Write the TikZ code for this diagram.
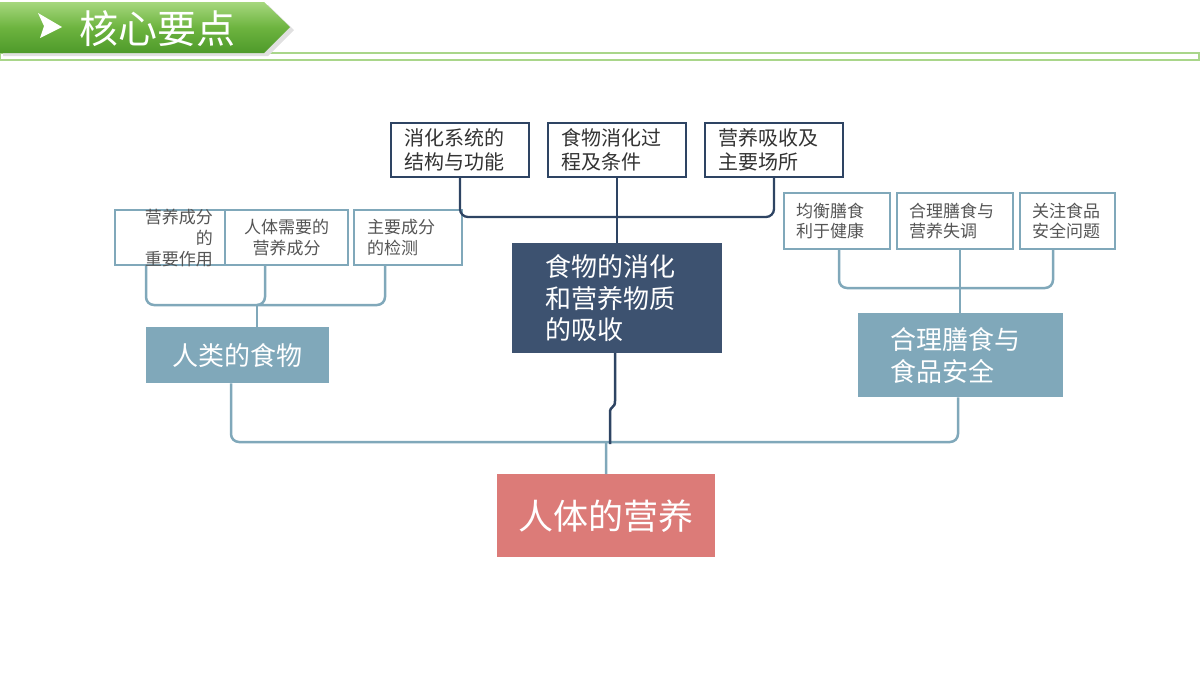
\documentclass[tikz,border=0pt]{standalone}
\usepackage{fontspec}
\setmainfont{Noto Sans CJK SC}
\usetikzlibrary{calc}
\definecolor{navy}{HTML}{2E4463}
\definecolor{midnavy}{HTML}{3D5270}
\definecolor{steel}{HTML}{80A8BA}
\definecolor{rosy}{HTML}{DC7B78}
\definecolor{greyt}{HTML}{555555}
\definecolor{darkt}{HTML}{333333}
\definecolor{gtop}{HTML}{A6D77E}
\definecolor{gmid}{HTML}{6DB43F}
\definecolor{gbot}{HTML}{4E9A2A}
\definecolor{gline}{HTML}{A9D68A}
\tikzset{
  topbox/.style={draw=navy, line width=2pt, fill=white, anchor=north west,
    inner xsep=13pt, inner ysep=0pt, text width=112pt, align=left,
    minimum height=54pt, text=darkt, font=\fontsize{20}{24}\selectfont},
  smallbox/.style={draw=steel, line width=2pt, fill=white, anchor=north west,
    inner sep=0pt, minimum height=55pt},
  rbox/.style={draw=steel, line width=2pt, fill=white, anchor=north west,
    inner ysep=0pt, inner xsep=12pt, align=left, minimum height=56pt,
    text=greyt, font=\fontsize{17}{20}\selectfont},
  stext/.style={text=greyt, font=\fontsize{17}{21}\selectfont, inner sep=0pt},
  mainbox/.style={anchor=north west, inner ysep=0pt, text=white},
  conn/.style={draw=steel, line width=2.5pt, rounded corners=8pt},
  dconn/.style={draw=navy, line width=2.3pt, rounded corners=8pt},
}
\begin{document}
\begin{tikzpicture}[x=1pt, y=-1pt]
\useasboundingbox (0,0) rectangle (1200,675);
% header
\draw[gline, line width=2pt] (0,52.5) rectangle (1198.5,59.5);
\fill[black!12] (3,5) -- (268,5) -- (294,30) -- (268,56) -- (3,56) -- cycle;
\shade[top color=gtop, bottom color=gbot, middle color=gmid]
  (0,2) -- (264,2) -- (290,27) -- (264,53) -- (0,53) -- cycle;
\fill[white] (38,13) -- (62,27) -- (40,38) -- (44,26) -- cycle;
\node[text=white, font=\fontsize{39}{40}\selectfont, anchor=west, inner sep=0pt] (title) at (79,29) {核心要点};

% top boxes
\node[topbox] (t1) at (390,122) {消化系统的\\结构与功能};
\node[topbox] (t2) at (547,122) {食物消化过\\程及条件};
\node[topbox] (t3) at (704,122) {营养吸收及\\主要场所};

% center box
\node[mainbox, fill=midnavy, minimum width=210pt, minimum height=110pt,
  inner xsep=33pt, text width=144pt, align=left, font=\fontsize{26}{31.5}\selectfont]
  (c) at (512,243) {食物的消化\\和营养物质\\的吸收};

% left small boxes
\node[smallbox, minimum width=110pt] (l1) at (114,209) {};
\node[stext, align=right, anchor=north east] (l1t) at (213,209) {营养成分\\的\\重要作用};
\node[smallbox, minimum width=123pt, text=greyt, font=\fontsize{17}{21}\selectfont, align=center] (l2) at (224,209) {人体需要的\\营养成分};
\node[smallbox, minimum width=108pt, inner xsep=13pt, text width=82pt, align=left, text=greyt, font=\fontsize{17}{21}\selectfont] (l3) at (353,209) {主要成分\\的检测};

% left main box
\node[mainbox, fill=steel, minimum width=183pt, minimum height=56pt, font=\fontsize{26}{30}\selectfont] (lf) at (146,327) {人类的食物};

% right small boxes
\node[rbox, text width=82pt] (r1) at (783,192) {均衡膳食\\利于健康};
\node[rbox, text width=92pt] (r2) at (896,192) {合理膳食与\\营养失调};
\node[rbox, text width=71pt] (r3) at (1019,192) {关注食品\\安全问题};

% right main box
\node[mainbox, fill=steel, minimum width=205pt, minimum height=84pt, inner xsep=32pt,
  text width=141pt, align=left, font=\fontsize{26}{32}\selectfont] (rf) at (858,313) {合理膳食与\\食品安全};

% root
\node[mainbox, fill=rosy, minimum width=218pt, minimum height=83pt, font=\fontsize{35}{40}\selectfont] (root) at (497,474) {人体的营养};

% connectors: top
\coordinate (tj) at (616,217);
\draw[dconn] (t1.south) |- (tj) -| (t3.south);
\draw[dconn, rounded corners=0pt] (t2.south) -- (c.north -| t2.south);

% left bracket
\coordinate (lj) at (257,305);
\draw[conn] ([xshift=32pt]l1.south west) |- (lj) -| ([xshift=32pt]l3.south west);
\draw[conn] ([xshift=41pt]l2.south west) |- (lj);
\draw[conn, rounded corners=0pt] ([xshift=111pt]lf.north west) -- (lj);

% right bracket
\coordinate (rj) at (960,288);
\draw[conn] ([xshift=56pt]r1.south west) |- (rj) -| ([xshift=34pt]r3.south west);
\draw[conn, rounded corners=0pt] ([xshift=64pt]r2.south west) -- (rf.north -| rj);

% bottom bracket
\coordinate (bj) at (606,442);
\draw[conn] ([xshift=85pt]lf.south west) |- (bj) -| ([xshift=100pt]rf.south west);
\draw[conn, rounded corners=0pt] (root.north) -- (bj);

% dark jog line
\coordinate (cb) at (615,353);
\draw[draw=navy, line width=2.5pt] (cb) -- (615,401) .. controls (615,409) and (610,405) .. (610,413) -- (610,444);
\end{tikzpicture}
\end{document}
